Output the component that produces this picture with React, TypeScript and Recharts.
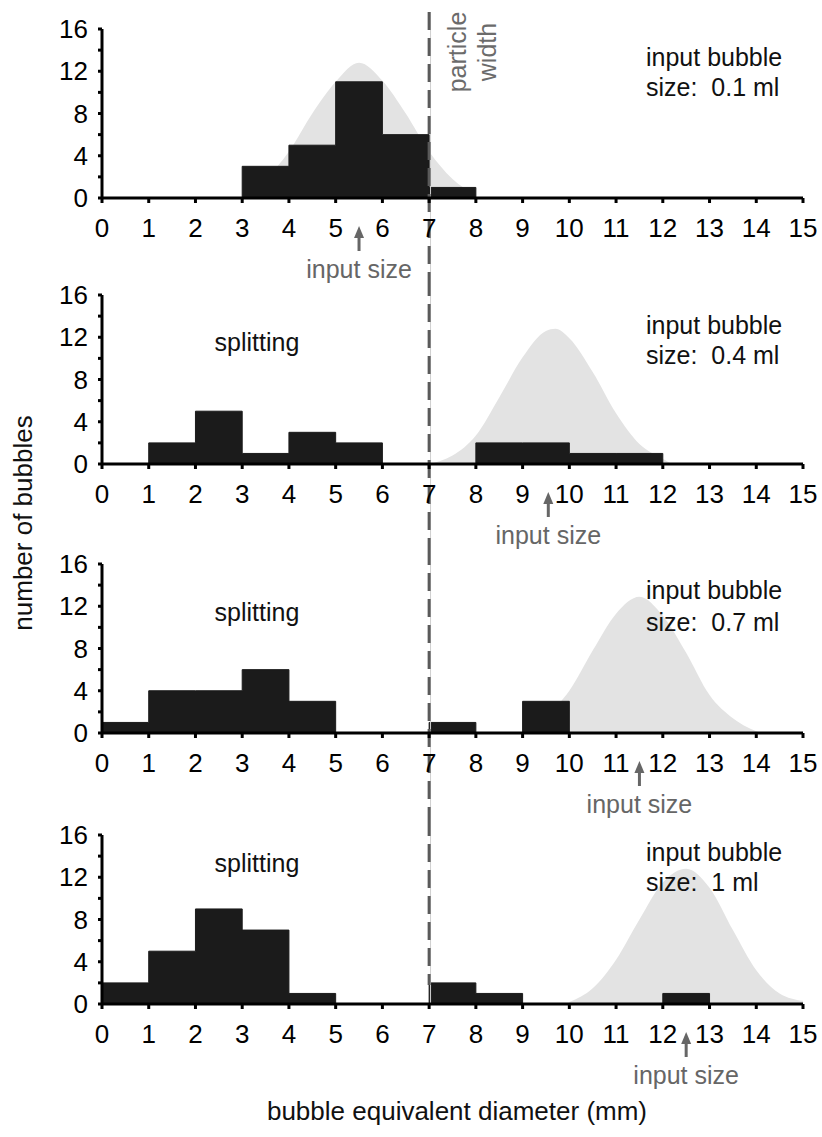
import { ComposedChart, Area, XAxis, YAxis, ReferenceLine } from "recharts";

// shared axis ticks
const xTicks = [0, 1, 2, 3, 4, 5, 6, 7, 8, 9, 10, 11, 12, 13, 14, 15];
const yTicks = [0, 2, 4, 6, 8, 10, 12, 14, 16];

// bubble counts per 1 mm bin (0-1, 1-2, ... 14-15)
const counts01 = [0, 0, 0, 3, 5, 11, 6, 1, 0, 0, 0, 0, 0, 0, 0];
const counts04 = [0, 2, 5, 1, 3, 2, 0, 0, 2, 2, 1, 1, 0, 0, 0];
const counts07 = [1, 4, 4, 6, 3, 0, 0, 1, 0, 3, 0, 0, 0, 0, 0];
const counts10 = [2, 5, 9, 7, 1, 0, 0, 2, 1, 0, 0, 0, 1, 0, 0];

// grey input size distribution
const gaussX01 = [3.0, 3.5, 4.0, 4.5, 5.0, 5.5, 6.0, 6.5, 7.0, 7.5, 8.0];
const gaussY01 = [0.3, 1.8, 4.4, 8.0, 11.0, 12.8, 11.1, 8.0, 4.4, 1.8, 0.3];
const gaussX04 = [7.0, 7.5, 8.0, 8.5, 9.0, 9.5, 9.7, 10.0, 10.5, 11.0, 11.5, 12.0, 12.2];
const gaussY04 = [0, 0.8, 2.7, 6.3, 10.1, 12.6, 12.8, 11.9, 8.7, 4.8, 1.9, 0.5, 0];
const gaussX07 = [9.0, 9.5, 10.0, 10.5, 11.0, 11.5, 12.0, 12.5, 13.0, 13.5, 14.1];
const gaussY07 = [0.2, 1.6, 4.0, 7.8, 11.3, 12.9, 11.1, 7.6, 3.6, 1.4, 0];
const gaussX10 = [10.0, 10.5, 11.0, 11.5, 12.0, 12.5, 13.0, 13.5, 14.0, 14.5, 15.0];
const gaussY10 = [0.2, 1.5, 4.2, 8.0, 11.5, 12.8, 11.0, 7.0, 3.2, 1.0, 0.3];

const inputSizes = [5.5, 9.55, 11.5, 12.5];
const volumeLabels = ["0.1 ml", "0.4 ml", "0.7 ml", "1 ml"];
const particleWidth = 7;

const FONT = "'Liberation Sans', Arial, Helvetica, sans-serif";
const PLOT_H = 169;
const PX_PER_UNIT = PLOT_H / 16;
const TOP = 30;
const BOTTOM = 90;

function buildRows(counts: number[], gx: number[], gy: number[]) {
  const rows = new Map<number, any>();
  xTicks.forEach((x, i) => {
    rows.set(x, { x, count: i < counts.length ? counts[i] : counts[counts.length - 1] });
  });
  gx.forEach((x, i) => {
    const r = rows.get(x) ?? { x };
    r.gauss = gy[i];
    rows.set(x, r);
  });
  return Array.from(rows.values()).sort((a, b) => a.x - b.x);
}

const panels = [
  { axisY: 198, counts: counts01, gx: gaussX01, gy: gaussY01, dashEnd: 80, lightEnd: 80 },
  { axisY: 464, counts: counts04, gx: gaussX04, gy: gaussY04, dashEnd: 83, lightEnd: 83 },
  { axisY: 733, counts: counts07, gx: gaussX07, gy: gaussY07, dashEnd: 85, lightEnd: 85 },
  { axisY: 1004, counts: counts10, gx: gaussX10, gy: gaussY10, dashEnd: -19, lightEnd: 0 },
];

const arrowShape = (props: any) => {
  const { x1, y1 } = props;
  return (
    <g>
      <line x1={x1} y1={y1 + 36} x2={x1} y2={y1 + 53} stroke="#666" strokeWidth={3} />
      <polygon
        points={`${x1},${y1 + 28} ${x1 - 5},${y1 + 40} ${x1 + 5},${y1 + 40}`}
        fill="#666"
      />
      <text
        x={x1}
        y={y1 + 71}
        textAnchor="middle"
        dominantBaseline="central"
        fill="#666"
        fontSize={25}
        fontFamily={FONT}
      >
        input size
      </text>
    </g>
  );
};

function Panel({ index }: { index: number }) {
  const p = panels[index];
  const data = buildRows(p.counts, p.gx, p.gy);
  const lineTop = 186 / PX_PER_UNIT;
  return (
    <div style={{ position: "absolute", left: 0, top: p.axisY - PLOT_H - TOP }}>
      <ComposedChart
        width={822}
        height={TOP + PLOT_H + BOTTOM}
        data={data}
        margin={{ top: TOP, right: 19, bottom: 0, left: 0 }}
      >
        <XAxis
          type="number"
          dataKey="x"
          domain={[0, 15]}
          ticks={xTicks}
          interval={0}
          height={BOTTOM}
          tickSize={5}
          tickMargin={16}
          axisLine={{ stroke: "#000", strokeWidth: 3 }}
          tickLine={{ stroke: "#000", strokeWidth: 3 }}
          tick={{ fill: "#000", fontSize: 26, fontFamily: FONT }}
        />
        <YAxis
          type="number"
          domain={[0, 16]}
          ticks={yTicks}
          interval={0}
          width={102}
          tickSize={4}
          tickMargin={10}
          tickFormatter={(v: number) => (v % 4 === 0 ? String(v) : "")}
          axisLine={{ stroke: "#000", strokeWidth: 3 }}
          tickLine={{ stroke: "#000", strokeWidth: 3 }}
          tick={{ fill: "#000", fontSize: 26, fontFamily: FONT }}
        />
        <Area
          dataKey="gauss"
          type="monotone"
          connectNulls
          stroke="none"
          fill="#e3e3e3"
          fillOpacity={1}
          dot={false}
          activeDot={false}
          isAnimationActive={false}
        />
        <Area
          dataKey="count"
          type="stepAfter"
          connectNulls
          stroke="#1b1b1b"
          strokeWidth={1}
          fill="#1b1b1b"
          fillOpacity={1}
          dot={false}
          activeDot={false}
          isAnimationActive={false}
        />
        <ReferenceLine
          ifOverflow="visible"
          segment={[
            { x: particleWidth + 0.03, y: lineTop },
            { x: particleWidth + 0.03, y: -p.lightEnd / PX_PER_UNIT },
          ]}
          stroke="#cfcfcf"
          strokeWidth={1}
        />
        <ReferenceLine
          ifOverflow="visible"
          segment={[
            { x: particleWidth, y: lineTop },
            { x: particleWidth, y: -p.dashEnd / PX_PER_UNIT },
          ]}
          stroke="#5a5a5a"
          strokeWidth={3}
          strokeDasharray="18 8"
        />
        <ReferenceLine
          ifOverflow="visible"
          segment={[
            { x: inputSizes[index], y: 0 },
            { x: inputSizes[index], y: 0 },
          ]}
          shape={arrowShape}
        />
      </ComposedChart>
    </div>
  );
}

const textStyle = { fontFamily: FONT, fontSize: 25 };
const sizeText = (label: string) => `size:\u00a0\u00a0${label}`;

export default function App() {
  return (
    <div style={{ position: "absolute", left: 0, top: 0, width: 822, height: 1137, background: "#fff" }}>
      {panels.map((_, i) => (
        <Panel key={i} index={i} />
      ))}
      <svg
        width={822}
        height={1137}
        style={{ position: "absolute", left: 0, top: 0, pointerEvents: "none" }}
      >
        <g fill="#6b6b6b" style={textStyle}>
          <text x={457} y={52} textAnchor="middle" dominantBaseline="central" transform="rotate(-90 457 52)">
            particle
          </text>
          <text x={487} y={52} textAnchor="middle" dominantBaseline="central" transform="rotate(-90 487 52)">
            width
          </text>
        </g>
        <g fill="#111" style={textStyle}>
          <text x={646} y={57} dominantBaseline="central">input bubble</text>
          <text x={646} y={87} dominantBaseline="central">{sizeText(volumeLabels[0])}</text>

          <text x={257} y={342} textAnchor="middle" dominantBaseline="central">splitting</text>
          <text x={646} y={325} dominantBaseline="central">input bubble</text>
          <text x={646} y={355} dominantBaseline="central">{sizeText(volumeLabels[1])}</text>

          <text x={257} y={612} textAnchor="middle" dominantBaseline="central">splitting</text>
          <text x={646} y={590} dominantBaseline="central">input bubble</text>
          <text x={646} y={622} dominantBaseline="central">{sizeText(volumeLabels[2])}</text>

          <text x={257} y={863} textAnchor="middle" dominantBaseline="central">splitting</text>
          <text x={646} y={852} dominantBaseline="central">input bubble</text>
          <text x={646} y={882} dominantBaseline="central">{sizeText(volumeLabels[3])}</text>

          <text x={457} y={1111} textAnchor="middle" dominantBaseline="central" fontSize={26}>
            bubble equivalent diameter (mm)
          </text>
          <text x={32} y={523} textAnchor="middle" fontSize={26} transform="rotate(-90 32 523)">
            number of bubbles
          </text>
        </g>
      </svg>
    </div>
  );
}
